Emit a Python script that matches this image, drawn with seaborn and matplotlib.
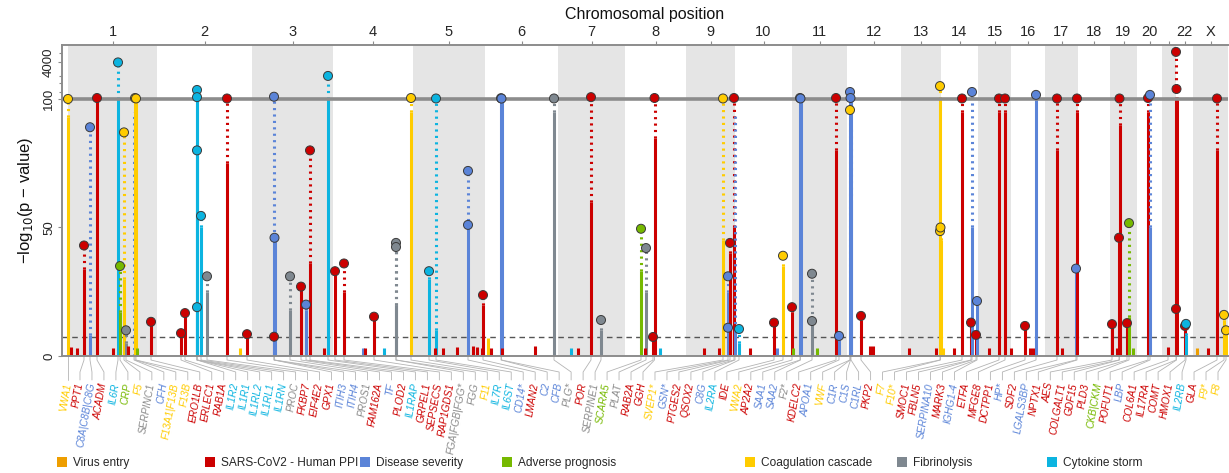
import numpy as np
import pandas as pd
import matplotlib
matplotlib.use("Agg")
import matplotlib.pyplot as plt
import matplotlib.transforms as mtransforms
from matplotlib.patches import Patch
import seaborn as sns

# === DATA ===
chrom_names = ["1", "2", "3", "4", "5", "6", "7", "8", "9", "10", "11", "12",
               "13", "14", "15", "16", "17", "18", "19", "20", "21", "22", "X"]
chrom_edges = [68, 157, 252, 333, 413, 485, 558, 625, 686, 735, 792, 847, 901,
               941, 978, 1011, 1045, 1078, 1110, 1137, 1162, 1176, 1193, 1228]

cat_keys = ["virus", "ppi", "sev", "adv", "coag", "fib", "cyto"]
cat_names = ["Virus entry", "SARS-CoV2 - Human PPI", "Disease severity",
             "Adverse prognosis", "Coagulation cascade", "Fibrinolysis", "Cytokine storm"]
cat_colors = ["#EE9E00", "#CC0000", "#5B84D8", "#76B900", "#FFCC00", "#7F8890", "#0CB4E0"]

genes = ["VWA1", "PPT1", "C8A|C8B|C8G", "ACADM", "IL6R", "CRP", "F5", "SERPINC1", "CFH",
         "F13A1|F13B", "F13B", "ERO1LB", "ERLEC1", "RAB1A", "IL1R2", "IL1R1", "IL1RL2",
         "IL1RL1", "IL1RN", "PROC", "FKBP7", "EIF4E2", "GPX1", "ITIH3", "ITIH4", "PROS1",
         "FAM162A", "TF", "PLOD2", "IL1RAP", "GRPEL1", "SEPSECS", "RAP1GDS1", "FGA|FGB|FGG*",
         "FGG", "F11", "IL7R", "IL6ST", "CD14*", "LMAN2", "C2", "CFB", "PLG*", "POR",
         "SERPINE1", "SCARA5", "PLAT", "RAB2A", "GGH", "SVEP1*", "GSN*", "PTGES2", "QSOX2",
         "C8G", "IL2RA", "IDE", "VWA2", "AP2A2", "SAA1", "SAA2", "F2*", "KDELC2", "APOA1",
         "VWF", "C1R", "C1S", "C1RL", "PKP2", "F7", "F10*", "SMOC1", "FBLN5", "SERPINA10",
         "MARK3", "IGHG1-4", "ETFA", "MFGE8", "DCTPP1", "HP*", "SDF2", "LGALS3BP", "NPTX1",
         "AES", "COLGALT1", "GDF15", "PLD3", "CKB|CKM", "POFUT1", "LBP", "COL6A1", "IL17RA",
         "COMT", "HMOX1", "IL2RB", "GLA", "F9*", "F8"]
gene_cat = ["coag", "ppi", "sev", "ppi", "cyto", "adv", "coag", "fib", "sev",
            "coag", "coag", "ppi", "ppi", "ppi", "cyto", "cyto", "cyto",
            "cyto", "cyto", "fib", "ppi", "ppi", "ppi", "sev", "sev", "fib",
            "ppi", "sev", "ppi", "cyto", "ppi", "ppi", "ppi", "fib",
            "fib", "coag", "cyto", "cyto", "sev", "ppi", "sev", "sev", "fib", "ppi",
            "fib", "adv", "fib", "ppi", "ppi", "coag", "sev", "ppi", "ppi",
            "sev", "cyto", "ppi", "coag", "ppi", "sev", "sev", "fib", "ppi", "sev",
            "coag", "sev", "sev", "sev", "ppi", "coag", "coag", "ppi", "ppi", "sev",
            "ppi", "sev", "ppi", "ppi", "ppi", "sev", "ppi", "sev", "ppi",
            "ppi", "ppi", "ppi", "ppi", "adv", "ppi", "sev", "ppi", "ppi",
            "ppi", "ppi", "cyto", "ppi", "coag", "coag"]
gene_pos = [68, 84, 90, 97, 118, 120, 124, 126, 134,
            135, 136, 151, 181, 185, 197, 197, 197,
            197, 201, 207, 227, 247, 274, 274, 274.5, 290,
            301, 306, 310, 328, 335, 344, 374, 396,
            396, 411, 429, 436, 468, 483, 501, 501.5, 554, 591,
            601, 641, 646, 653, 654.5, 723, 728, 730, 734,
            735, 739, 774, 783, 792, 800, 800.5, 812, 836, 839,
            850, 850, 850.5, 851, 861, 940, 940.5, 962, 971, 972,
            976, 977, 999, 1005, 1025, 1036, 1057, 1076, 1077,
            1112, 1119, 1119.5, 1127, 1129, 1148, 1150, 1168, 1176,
            1176.5, 1185, 1186, 1217, 1224, 1226]
gene_peak = [100, 43, 89, 110, 3800, 35, 87, 10, 95,
             110, 105, 13.3, 8.9, 16.7, 245, 120, 80,
             19, 54.5, 31, 105, 8.5, 7.5, 125, 46, 31,
             27, 20, 80, 990, 33, 36, 15.3, 44,
             42.4, 110, 33, 105, 72, 23.7, 108, 104, 105, 120,
             14, 49.5, 42, 7.4, 110, 105, 31, 44, 110,
             95, 10.5, 13, 39, 19, 110, 105, 32, 110, 7.8,
             95.7, 200, 110, 90, 15.6, 360, 50, 105, 13, 200,
             8.2, 21.4, 105, 105, 11.7, 150, 105, 34, 105,
             12.4, 46, 105, 12.8, 51.7, 110, 150, 3.5, 10800,
             270, 11.7, 12.5, 105, 16, 10]
# height up to which the column of SNPs is dense (solid)
gene_dense = [93, 34, 8, 100, 100, 17, 30, 5, 0,
              100, 100, 13, 8.5, 16, 100, 100, 80,
              19, 50, 25, 75, 8, 7, 46, 46, 18,
              26, 18, 36, 100, 32, 25, 14, 20,
              20, 95, 30, 10, 50, 20, 100, 100, 95, 60,
              10, 33, 25, 7, 85, 45, 25, 40, 50,
              10, 5, 12, 35, 17, 100, 100, 14, 80, 7,
              30, 100, 100, 60, 14, 100, 45, 95, 12, 50,
              8, 20, 95, 95, 11, 100, 80, 33, 95,
              12, 45, 90, 12, 15, 95, 50, 3.5, 100,
              100, 10, 8, 80, 14, 10]
gene_leads = [[100], [43], [89], [110], [3800], [35], [87], [10], [],
              [110], [105], [13.3], [8.9], [16.7], [245], [120], [80],
              [19], [54.5], [31], [105], [8.5], [7.5], [125], [46], [31],
              [27], [20], [80], [990], [33], [36], [15.3], [44],
              [42.4], [110], [33], [105], [72, 51], [23.7], [108], [104], [105], [120],
              [14], [49.5], [42], [7.4], [110], [105], [31, 11], [44], [110],
              [], [10.5], [13], [39], [19], [110], [105], [32, 13.6], [110], [7.8],
              [95.7], [200], [110], [], [15.6], [360, 48.6], [50], [105], [13], [200],
              [8.2], [21.4], [105], [105], [11.7], [150], [105], [34], [105],
              [12.4], [46], [105], [12.8], [51.7], [110], [150], [], [10800, 18.3],
              [270], [11.7], [12.5], [105], [16], [10]]

# short sub-threshold columns without a gene label
minor_pos = [71, 77, 113, 128, 137, 240, 324, 363, 365, 384, 435, 443, 457, 473, 477,
             482, 488, 491, 502, 535, 571, 578, 645, 660, 704, 719, 750, 777, 793, 817,
             870, 873, 909, 936, 943, 954, 989, 1011, 1030, 1033, 1062, 1117, 1133, 1197, 1208]
minor_cat = ["ppi", "ppi", "ppi", "ppi", "adv", "coag", "ppi", "sev", "ppi", "cyto", "ppi",
             "ppi", "ppi", "ppi", "ppi", "ppi", "coag", "ppi", "ppi", "ppi", "cyto", "ppi",
             "ppi", "cyto", "ppi", "ppi", "ppi", "sev", "adv", "adv", "ppi", "ppi", "ppi",
             "ppi", "coag", "ppi", "ppi", "ppi", "ppi", "ppi", "ppi", "ppi", "adv", "virus", "ppi"]
minor_height = [3.5, 3, 3, 4, 3, 3, 3, 3, 3, 3, 3, 3, 3.5, 4, 3.5,
                3, 7, 3, 3, 4, 3, 3, 3, 3, 3, 3, 3, 3, 3, 3,
                4, 4, 3, 3, 3, 3, 3, 3, 3, 3, 3, 3, 3, 3, 3]

SIG_LINE = 7.3
BREAK = 100

# === PLOT ===
sns.set_theme(style="white")
plt.rcParams["font.family"] = ["Liberation Sans", "DejaVu Sans"]
palette = dict(zip(cat_keys, cat_colors))
label_colors = dict(palette, fib="#8A8A8A")


def fwd(v):
    v = np.asarray(v, dtype=float)
    return np.where(v <= BREAK, v, BREAK + 9 * np.log10(np.maximum(v, 1e-9) / BREAK))


def inv(u):
    u = np.asarray(u, dtype=float)
    return np.where(u <= BREAK, u, BREAK * 10 ** ((u - BREAK) / 9))


fig = plt.figure(figsize=(12.29, 4.73), dpi=100)
ax = fig.add_axes([62 / 1229, 1 - 356 / 473, 1166 / 1229, 311 / 473])
ax.set_yscale("function", functions=(fwd, inv))
ax.set_xlim(62, 1228)
ax.set_ylim(0, 21500)

# chromosome bands
for i in range(len(chrom_names)):
    if i % 2 == 0:
        ax.axvspan(chrom_edges[i], chrom_edges[i + 1], color="#E5E5E5", lw=0, zorder=0)

ax.axhline(SIG_LINE, ls=(0, (4, 3)), color="#555555", lw=1.0, zorder=1)

# stems
df = pd.DataFrame({"gene": genes, "cat": gene_cat, "pos": gene_pos,
                   "peak": gene_peak, "dense": gene_dense})
for _, r in df.iterrows():
    col = palette[r["cat"]]
    top = min(r["dense"], r["peak"])
    if top > 0:
        ax.vlines(r["pos"], 0, top, color=col, lw=2.2, zorder=2)
    if r["peak"] > top:
        ax.vlines(r["pos"], top, r["peak"], color=col, lw=2.2,
                  linestyles=(0, (0.7, 1.4)), zorder=2)

ax.vlines(minor_pos, 0, minor_height, colors=[palette[c] for c in minor_cat], lw=2.2, zorder=2)

ax.axhline(BREAK, color="#8C8C8C", lw=2.6, zorder=4)

# lead SNPs
leads = pd.DataFrame({"pos": gene_pos, "cat": gene_cat, "lead": gene_leads}).explode("lead")
leads = leads.dropna().astype({"lead": float})
sns.scatterplot(data=leads, x="pos", y="lead", hue="cat", palette=palette, s=42,
                edgecolor="#3A3A3A", linewidth=0.7, legend=False, zorder=6, ax=ax,
                clip_on=False)

# axes styling
for side in ["left", "top", "bottom"]:
    ax.spines[side].set_color("#8C8C8C")
    ax.spines[side].set_linewidth(1.4)
ax.spines["right"].set_visible(False)

mids = [(chrom_edges[i] + chrom_edges[i + 1]) / 2 for i in range(len(chrom_names))]
ax.set_xticks(mids)
ax.set_xticklabels(["" if c == "21" else c for c in chrom_names])
ax.tick_params(axis="x", top=True, bottom=False, labeltop=True, labelbottom=False,
               length=3, width=0.8, color="#8C8C8C", labelsize=10.5, pad=1, direction="out")
ax.xaxis.set_label_position("top")
ax.set_xlabel("Chromosomal position", fontsize=11.5, labelpad=5, color="#111111")

ax.set_yticks([0, 50, 100, 4000])
ax.set_yticks([200, 500, 1000, 10000], minor=True)
ax.set_yticklabels(["0", "50", "100", "4000"])
ax.tick_params(axis="y", which="both", left=True, length=3, width=0.8, color="#8C8C8C",
               labelsize=9.5, pad=2, labelrotation=90)
ax.tick_params(axis="y", which="minor", length=2)
for lbl in ax.get_yticklabels():
    lbl.set_va("center")
ax.set_ylabel("\u2212log$_{10}$(p \u2212 value)", fontsize=12, labelpad=6, color="#111111")

# gene labels with connectors
trans = mtransforms.blended_transform_factory(ax.transData, ax.transAxes)
px = 1 / 311
slots = np.linspace(68, 1218, len(genes))
for g, c, p, s in zip(genes, gene_cat, gene_pos, slots):
    ax.plot([p, p, s, s], [0, -4 * px, -16 * px, -24 * px], transform=trans,
            color="#B4B4B4", lw=0.6, clip_on=False, zorder=1)
    ax.text(s, -27 * px, g, transform=trans, rotation=80, rotation_mode="anchor",
            ha="right", va="center", fontsize=7.3, style="italic", color=label_colors[c])

# legend, one entry per category
legend_x = [57, 205, 360, 502, 745, 897, 1047]
for name, col, lx in zip(cat_names, cat_colors, legend_x):
    fig.legend(handles=[Patch(facecolor=col, edgecolor="none")], labels=[name],
               loc="center left", bbox_to_anchor=(lx / 1229, 1 - 463 / 473),
               frameon=False, handlelength=0.85, handleheight=0.95, handletextpad=0.45,
               borderpad=0, borderaxespad=0, fontsize=8.6)

fig.savefig("out.png", dpi=100)
plt.close(fig)
